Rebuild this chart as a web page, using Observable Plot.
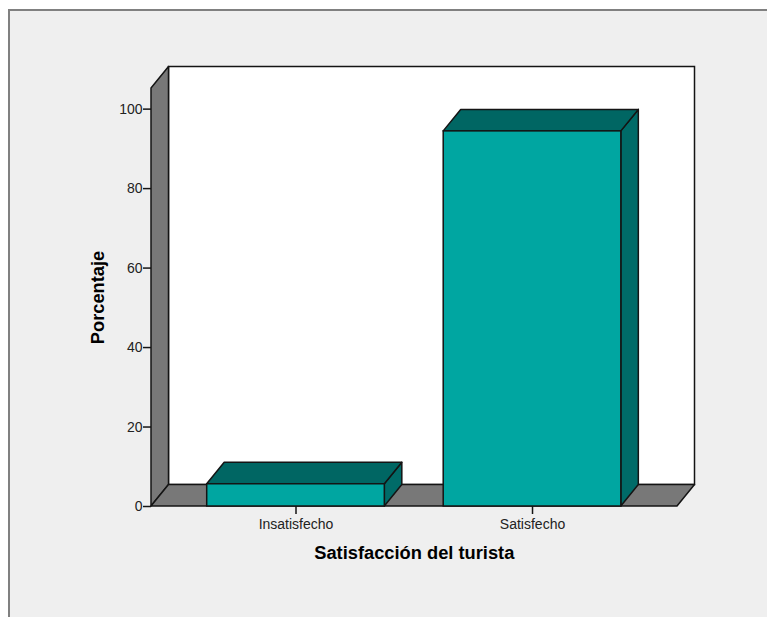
<!DOCTYPE html>
<html lang="es">
<head>
<meta charset="utf-8">
<title>Satisfacción del turista</title>
<script src="https://cdn.jsdelivr.net/npm/d3@7"></script>
<script src="https://cdn.jsdelivr.net/npm/@observablehq/plot@0.6"></script>
<style>
  html, body { margin: 0; padding: 0; background: #fff; }
  #panel { position: absolute; left: 8px; top: 9px; right: 0; bottom: 0;
           background: #efefef; border-left: 2px solid #808080; border-top: 2px solid #808080; }
  #chart { position: absolute; left: 0; top: 0; }
  #chart svg { background: transparent; display: block; }
</style>
</head>
<body>
<div id="panel"></div>
<div id="chart"></div>
<script>
// Share of tourists by satisfaction level
const categories = ["Insatisfecho", "Satisfecho"];
const positions = [0, 1];
const percentages = [5.6, 94.4];
const yTicks = [0, 20, 40, 60, 80, 100];

// Extent of the box in data units, plus the oblique offset of its depth
const xLeft = -0.611;
const xRight = 1.613;
const yTop = 105.2;
const depthX = 0.074;
const depthY = 5.4;
const barHalfWidth = 0.3755;

const ink = "#141414";
const wallGrey = "#787878";
const barFront = "#00a6a1";
const barTop = "#006663";
const barSide = "#006b68";

// A vertical face receding into the depth
const sideFace = (x, y0, y1) => [
  {x, lo: y0, hi: y1},
  {x: x + depthX, lo: y0 + depthY, hi: y1 + depthY}
];
// A horizontal face receding into the depth
const topFace = (x0, x1, y) => [
  {x: x0, lo: y, hi: y},
  {x: x0 + depthX, lo: y, hi: y + depthY},
  {x: x1, lo: y, hi: y + depthY},
  {x: x1 + depthX, lo: y + depthY, hi: y + depthY}
];
const face = (rows, fill) =>
  Plot.area(rows, {x1: "x", y1: "lo", y2: "hi", fill, stroke: ink, strokeWidth: 1.5, strokeLinejoin: "round"});

const bars = positions.map((p, i) => ({p, value: percentages[i]}));

const chart = Plot.plot({
  width: 767,
  height: 617,
  marginLeft: 151,
  marginRight: 72.5,
  marginTop: 66.5,
  marginBottom: 111,
  style: {fontFamily: "'Liberation Sans', Arial, sans-serif", fontSize: "14px", color: "#222"},
  x: {domain: [xLeft, xRight + depthX]},
  y: {domain: [0, yTop + depthY]},
  marks: [
    // Back wall, side wall and floor of the box
    Plot.rect([0], {
      x1: xLeft + depthX, x2: xRight + depthX,
      y1: depthY, y2: yTop + depthY,
      fill: "#fff", stroke: ink, strokeWidth: 1.5
    }),
    face(sideFace(xLeft, 0, yTop), wallGrey),
    face(topFace(xLeft, xRight, 0), wallGrey),

    // Bars: side, top, then front face
    ...bars.flatMap(({p, value}) => [
      face(sideFace(p + barHalfWidth, 0, value), barSide),
      face(topFace(p - barHalfWidth, p + barHalfWidth, value), barTop)
    ]),
    Plot.rect(bars, {
      x1: (d) => d.p - barHalfWidth,
      x2: (d) => d.p + barHalfWidth,
      y1: 0,
      y2: "value",
      fill: barFront,
      stroke: ink,
      strokeWidth: 1.5
    }),

    Plot.axisY({
      ticks: yTicks, tickFormat: "d", tickSize: 8, tickPadding: 1,
      stroke: ink, strokeWidth: 1.5, label: null
    }),
    Plot.axisX({
      ticks: positions, tickFormat: (d) => categories[d], tickSize: 8, tickPadding: 5,
      stroke: ink, strokeWidth: 1.5, label: null
    }),
    Plot.text(["Porcentaje"], {
      x: xLeft, y: 52.6, dx: -53, rotate: -90,
      text: (d) => d, fontWeight: "bold", fontSize: 18.3, fill: "#000"
    }),
    Plot.text(["Satisfacción del turista"], {
      x: 0.5, y: 0, dy: 47,
      text: (d) => d, fontWeight: "bold", fontSize: 18.3, fill: "#000"
    })
  ]
});
document.getElementById("chart").append(chart);
</script>
</body>
</html>
